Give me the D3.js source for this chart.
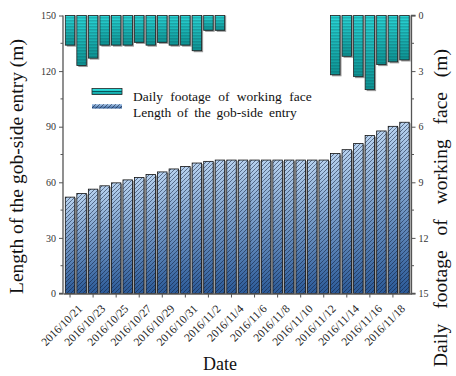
<!DOCTYPE html>
<html>
<head>
<meta charset="utf-8">
<script src="https://cdn.jsdelivr.net/npm/d3@7"></script>
<style>
  body { margin: 0; background: #fff; }
  svg { display: block; }
  svg text { font-family: "Liberation Serif", "Times New Roman", serif; }
</style>
</head>
<body>
<div id="container"></div>
<script>
//---------- DATA ----------//
const dates = ["2016/10/21","2016/10/22","2016/10/23","2016/10/24","2016/10/25","2016/10/26",
  "2016/10/27","2016/10/28","2016/10/29","2016/10/30","2016/10/31","2016/11/1","2016/11/2",
  "2016/11/3","2016/11/4","2016/11/5","2016/11/6","2016/11/7","2016/11/8","2016/11/9",
  "2016/11/10","2016/11/11","2016/11/12","2016/11/13","2016/11/14","2016/11/15","2016/11/16",
  "2016/11/17","2016/11/18","2016/11/19"];
// length of the gob-side entry (m), left axis
const entryLength = [52, 54, 56.3, 58.1, 59.7, 61.3, 62.6, 64.2, 65.6, 67.2, 68.5, 70.4, 71.3,
  72, 72, 72, 72, 72, 72, 72, 72, 72, 72, 75.5, 77.6, 80.9, 85.2, 87.7, 90.2, 92.4];
// daily footage of working face (m), right axis (reversed)
const dailyFootage = [1.6, 2.7, 2.3, 1.6, 1.6, 1.6, 1.45, 1.6, 1.45, 1.6, 1.6, 1.9, 0.8, 0.8,
  0, 0, 0, 0, 0, 0, 0, 0, 0, 3.2, 2.2, 3.3, 4.0, 2.65, 2.5, 2.4];
const xTickLabels = dates.filter((d, i) => i % 2 === 0 && i < 29);
const leftTicks = [0, 30, 60, 90, 120, 150];
const rightTicks = [0, 3, 6, 9, 12, 15];

//---------- SVG ----------//
const width = 456, height = 376;
const x0 = 63, x1 = 411.5, yTop = 15.5, yBot = 293.5;
const serif = '"Liberation Serif", "Times New Roman", serif';

const svg = d3.select("#container").append("svg")
  .attr("width", width).attr("height", height);

const defs = svg.append("defs");

// blue gradient for the length bars
const gBlue = defs.append("linearGradient").attr("id", "gBlue")
  .attr("x1", 0).attr("y1", 0).attr("x2", 0).attr("y2", 1);
gBlue.append("stop").attr("offset", "0%").attr("stop-color", "#b7d2ef");
gBlue.append("stop").attr("offset", "100%").attr("stop-color", "#2b5a98");

// cyan gradient for footage bars
const gCyan = defs.append("linearGradient").attr("id", "gCyan")
  .attr("x1", 0).attr("y1", 0).attr("x2", 0).attr("y2", 1);
gCyan.append("stop").attr("offset", "0%").attr("stop-color", "#2ee6e6");
gCyan.append("stop").attr("offset", "100%").attr("stop-color", "#0e9a9a");

// diagonal hatch
const hatch = defs.append("pattern").attr("id", "hatch")
  .attr("patternUnits", "userSpaceOnUse").attr("width", 4).attr("height", 4);
hatch.append("path").attr("d", "M-1,1 l2,-2 M0,4 l4,-4 M3,5 l2,-2")
  .attr("stroke", "#0e1c3a").attr("stroke-width", 0.8).attr("stroke-dasharray", "1,0.6");

// horizontal stripes
const stripes = defs.append("pattern").attr("id", "stripes")
  .attr("patternUnits", "userSpaceOnUse").attr("width", 6).attr("height", 3)
  .attr("y", yTop);
stripes.append("line").attr("x1", 0).attr("x2", 6).attr("y1", 2.2).attr("y2", 2.2)
  .attr("stroke", "#064a50").attr("stroke-width", 0.9).attr("stroke-opacity", 0.75);

//---------- SCALES ----------//
const xScale = d3.scaleBand().domain(dates).range([x0, x1])
  .paddingInner(0.18).paddingOuter(0.2);
const yLeft = d3.scaleLinear().domain([0, 150]).range([yBot, yTop]);
const yRight = d3.scaleLinear().domain([0, 15]).range([yTop, yBot]);
const bw = xScale.bandwidth();

//---------- LENGTH BARS ----------//
const lb = svg.append("g");
lb.selectAll(".shadow").data(entryLength).join("rect")
  .attr("x", (d, i) => xScale(dates[i]) + 1.5)
  .attr("y", d => yLeft(d) + 1)
  .attr("width", bw).attr("height", d => yBot - yLeft(d) - 1)
  .attr("fill", "#9a9a9a");
lb.selectAll(".fillb").data(entryLength).join("rect")
  .attr("x", (d, i) => xScale(dates[i]))
  .attr("y", d => yLeft(d))
  .attr("width", bw).attr("height", d => yBot - yLeft(d))
  .attr("fill", "url(#gBlue)");
lb.selectAll(".hatchb").data(entryLength).join("rect")
  .attr("x", (d, i) => xScale(dates[i]))
  .attr("y", d => yLeft(d))
  .attr("width", bw).attr("height", d => yBot - yLeft(d))
  .attr("fill", "url(#hatch)")
  .attr("stroke", "#111").attr("stroke-width", 0.8);

//---------- FOOTAGE BARS ----------//
const fb = svg.append("g");
const fData = dailyFootage.map((d, i) => ({ d, i })).filter(o => o.d > 0);
fb.selectAll(".shadow").data(fData).join("rect")
  .attr("x", o => xScale(dates[o.i]) + 1.5)
  .attr("y", yTop)
  .attr("width", bw).attr("height", o => yRight(o.d) - yTop + 1.5)
  .attr("fill", "#9a9a9a");
fb.selectAll(".fillc").data(fData).join("rect")
  .attr("x", o => xScale(dates[o.i]))
  .attr("y", yTop)
  .attr("width", bw).attr("height", o => yRight(o.d) - yTop)
  .attr("fill", "url(#gCyan)");
fb.selectAll(".stripec").data(fData).join("rect")
  .attr("x", o => xScale(dates[o.i]))
  .attr("y", yTop)
  .attr("width", bw).attr("height", o => yRight(o.d) - yTop)
  .attr("fill", "url(#stripes)")
  .attr("stroke", "#222").attr("stroke-width", 0.8);

//---------- AXES ----------//
const axisColor = "#555";
const leftAxis = svg.append("g").attr("transform", `translate(${x0},0)`)
  .call(d3.axisLeft(yLeft).tickValues(leftTicks).tickSize(4).tickPadding(3));
leftAxis.append("g").selectAll("line").data(d3.range(15, 150, 30)).join("line")
  .attr("x1", -2.5).attr("x2", 0).attr("y1", d => yLeft(d)).attr("y2", d => yLeft(d));

const rightAxis = svg.append("g").attr("transform", `translate(${x1},0)`)
  .call(d3.axisRight(yRight).tickValues(rightTicks).tickSize(4).tickPadding(3));
rightAxis.append("g").selectAll("line").data(d3.range(1.5, 15, 3)).join("line")
  .attr("x1", 0).attr("x2", 2.5).attr("y1", d => yRight(d)).attr("y2", d => yRight(d));

const bottomAxis = svg.append("g").attr("transform", `translate(0,${yBot})`)
  .call(d3.axisBottom(xScale).tickValues(xTickLabels).tickSize(4).tickSizeOuter(0));
bottomAxis.selectAll("text")
  .attr("text-anchor", "end")
  .attr("dx", 0).attr("dy", 0)
  .attr("transform", "translate(8,11) rotate(-45)");

[leftAxis, rightAxis, bottomAxis].forEach(a => {
  a.attr("font-family", null);
  a.selectAll("path.domain").attr("stroke", axisColor).attr("stroke-width", 1.3);
  a.selectAll("line").attr("stroke", axisColor);
  a.selectAll("text").style("font-family", serif)
    .attr("font-size", 10).attr("fill", "#333");
});
bottomAxis.selectAll("text").attr("font-size", 11.5).attr("fill", "#222");
leftAxis.select("path.domain").attr("d", `M-4,${yBot}H0V${yTop}`);
rightAxis.select("path.domain").attr("d", `M4,${yTop}H0V${yBot}H4`);

//---------- LABELS ----------//
svg.append("text")
  .attr("transform", `translate(23,${(yTop + yBot) / 2 + 12}) rotate(-90)`)
  .attr("text-anchor", "middle").attr("font-size", 19.5).attr("fill", "#111")
  .text("Length of the gob-side entry (m)");
svg.append("text")
  .attr("transform", `translate(447,208) rotate(-90)`)
  .attr("text-anchor", "middle").attr("font-size", 19.5).attr("fill", "#111")
  .attr("word-spacing", 10)
  .text("Daily footage of working face (m)");
svg.append("text")
  .attr("x", 220).attr("y", 370)
  .attr("text-anchor", "middle").attr("font-size", 18).attr("fill", "#111")
  .text("Date");

//---------- LEGEND ----------//
const legend = svg.append("g");
legend.append("rect").attr("x", 92).attr("y", 88.5).attr("width", 30).attr("height", 6)
  .attr("fill", "url(#gCyan)").attr("stroke", "#222").attr("stroke-width", 0.8);
legend.append("line").attr("x1", 92).attr("x2", 122).attr("y1", 91.5).attr("y2", 91.5)
  .attr("stroke", "#064a50").attr("stroke-width", 0.9);
legend.append("rect").attr("x", 92).attr("y", 104).attr("width", 30).attr("height", 4.5)
  .attr("fill", "url(#gBlue)");
legend.append("rect").attr("x", 92).attr("y", 104).attr("width", 30).attr("height", 4.5)
  .attr("fill", "url(#hatch)");
legend.append("text").attr("x", 133).attr("y", 101).attr("font-size", 13.5)
  .attr("word-spacing", 4).attr("fill", "#111")
  .text("Daily footage of working face");
legend.append("text").attr("x", 133).attr("y", 117).attr("font-size", 13.5)
  .attr("word-spacing", 2.5).attr("fill", "#111")
  .text("Length of the gob-side entry");
</script>
</body>
</html>
